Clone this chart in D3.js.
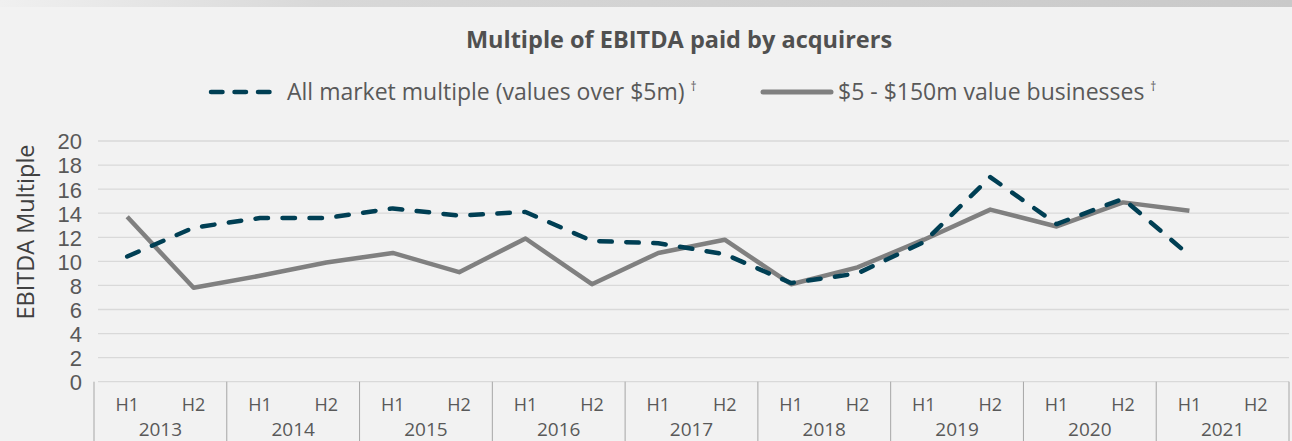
<!DOCTYPE html>
<html>
<head>
<meta charset="utf-8">
<script src="https://cdn.jsdelivr.net/npm/d3@7"></script>
<style>
  html, body { margin: 0; padding: 0; background: #f2f2f2; }
  svg { display: block; font-family: "Open Sans", Lato, sans-serif; }
</style>
</head>
<body>
<div id="chart"></div>
<script>
// Data
const years = [2013, 2014, 2015, 2016, 2017, 2018, 2019, 2020, 2021];
const halves = ["H1", "H2"];
const allMarket = [10.4, 12.8, 13.6, 13.6, 14.4, 13.8, 14.1, 11.7, 11.5, 10.6, 8.2, 9.0, 11.6, 17.0, 13.1, 15.2, 10.5, null];
const smallMid  = [13.7, 7.8, 8.8, 9.9, 10.7, 9.1, 11.9, 8.1, 10.7, 11.8, 8.1, 9.5, 11.8, 14.3, 12.9, 14.9, 14.2, null];
const yTicks = [0, 2, 4, 6, 8, 10, 12, 14, 16, 18, 20];
const seriesNames = ["All market multiple (values over $5m)", "$5 - $150m value businesses"];

const width = 1292, height = 441;
const plot = { left: 94, right: 1289, top: 141, bottom: 381.7 };

const periods = years.flatMap(y => halves.map(h => `${y} ${h}`));

const svg = d3.select("#chart")
  .append("svg")
    .attr("width", width)
    .attr("height", height);

// top grey strip
const grad = svg.append("defs").append("linearGradient").attr("id", "strip");
grad.append("stop").attr("offset", "0%").attr("stop-color", "#f0f0f0");
grad.append("stop").attr("offset", "25%").attr("stop-color", "#d8d8d8");
grad.append("stop").attr("offset", "100%").attr("stop-color", "#c9c9c9");
svg.append("rect").attr("x", 0).attr("y", 0).attr("width", width).attr("height", 7).attr("fill", "url(#strip)");

// Scales
const xBand = d3.scaleBand().domain(periods).range([plot.left, plot.right]).padding(0);
const xYear = d3.scaleBand().domain(years).range([plot.left, plot.right]).padding(0);
const yScale = d3.scaleLinear().domain([0, 20]).range([plot.bottom, plot.top]);
const xPos = i => xBand(periods[i]) + xBand.bandwidth() / 2;

// Gridlines
svg.append("g")
  .selectAll("line")
  .data(yTicks)
  .join("line")
    .attr("x1", plot.left + 4)
    .attr("x2", plot.right)
    .attr("y1", d => yScale(d))
    .attr("y2", d => yScale(d))
    .attr("stroke", "#d9d9d9")
    .attr("stroke-width", 1.3);

// Y axis labels
const yAxis = svg.append("g")
  .attr("transform", `translate(${plot.left - 12}, 0)`)
  .call(d3.axisLeft(yScale).tickValues(yTicks).tickSize(0).tickPadding(0));
yAxis.select(".domain").remove();
yAxis.selectAll("text")
  .attr("fill", "#595959")
  .style("font-size", "22px")
  .attr("dy", "0.36em");

// Y axis title
svg.append("text")
  .attr("transform", `translate(34, 232) rotate(-90)`)
  .attr("text-anchor", "middle")
  .attr("fill", "#404040")
  .style("font-size", "23.5px")
  .text("EBITDA Multiple");

// X axis: year separators, half labels, year labels
svg.append("g")
  .selectAll("line")
  .data(years.concat(["end"]))
  .join("line")
    .attr("x1", d => d === "end" ? plot.right : xYear(d))
    .attr("x2", d => d === "end" ? plot.right : xYear(d))
    .attr("y1", plot.bottom)
    .attr("y2", height)
    .attr("stroke", "#a6a6a6")
    .attr("stroke-width", 1);

svg.append("g")
  .selectAll("text")
  .data(periods)
  .join("text")
    .attr("x", d => xBand(d) + xBand.bandwidth() / 2)
    .attr("y", 411)
    .attr("text-anchor", "middle")
    .attr("fill", "#595959")
    .style("font-size", "18px")
    .text(d => d.split(" ")[1]);

svg.append("g")
  .selectAll("text")
  .data(years)
  .join("text")
    .attr("x", d => xYear(d) + xYear.bandwidth() / 2)
    .attr("y", 436)
    .attr("text-anchor", "middle")
    .attr("fill", "#595959")
    .style("font-size", "19px")
    .text(d => d);

// Lines
const lineGen = d3.line()
  .defined(d => d != null)
  .x((d, i) => xPos(i))
  .y(d => yScale(d));

svg.append("path")
  .attr("d", lineGen(smallMid))
  .attr("fill", "none")
  .attr("stroke", "#808080")
  .attr("stroke-width", 4.5)
  .attr("stroke-linejoin", "round");

svg.append("path")
  .attr("d", lineGen(allMarket))
  .attr("fill", "none")
  .attr("stroke", "#003f54")
  .attr("stroke-width", 4.5)
  .attr("stroke-linecap", "round")
  .attr("stroke-linejoin", "round")
  .attr("stroke-dasharray", "12.5,14.5");

// Title
svg.append("text")
  .attr("x", 679)
  .attr("y", 48)
  .attr("text-anchor", "middle")
  .attr("fill", "#505050")
  .style("font-size", "23.5px")
  .style("font-weight", 700)
  .text("Multiple of EBITDA paid by acquirers");

// Legend
const legend = svg.append("g");
legend.append("line")
  .attr("x1", 211).attr("x2", 273).attr("y1", 92).attr("y2", 92)
  .attr("stroke", "#003f54").attr("stroke-width", 4.5)
  .attr("stroke-linecap", "round").attr("stroke-dasharray", "11.5,12");
const t1 = legend.append("text")
  .attr("x", 287).attr("y", 99.5)
  .attr("fill", "#595959").style("font-size", "23px");
t1.append("tspan").text(seriesNames[0]);
t1.append("tspan").attr("dx", 6).attr("dy", -9).style("font-size", "12px").text("†");

legend.append("line")
  .attr("x1", 763).attr("x2", 831).attr("y1", 92).attr("y2", 92)
  .attr("stroke", "#808080").attr("stroke-width", 5)
  .attr("stroke-linecap", "round");
const t2 = legend.append("text")
  .attr("x", 838).attr("y", 99.5)
  .attr("fill", "#595959").style("font-size", "23px");
t2.append("tspan").text(seriesNames[1]);
t2.append("tspan").attr("dx", 6).attr("dy", -9).style("font-size", "12px").text("†");
</script>
</body>
</html>
